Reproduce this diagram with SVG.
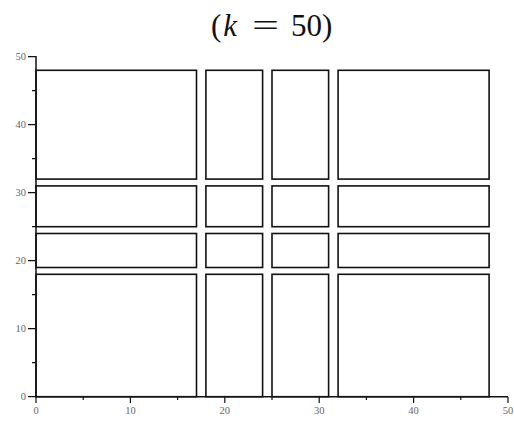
<svg xmlns="http://www.w3.org/2000/svg" width="514" height="422" viewBox="0 0 514 422">
<style>
.r{fill:none;stroke:#111;stroke-width:1.6}
.ax{stroke:#111;stroke-width:1.5;fill:none}
.tk{stroke:#111;stroke-width:1.2}
.lb{font-family:"Liberation Serif","DejaVu Serif",serif;font-size:10.5px;fill:#666}
.tt{font-family:"Liberation Serif","DejaVu Serif",serif;font-size:31px;fill:#111}
</style>
<rect width="514" height="422" fill="#fff"/>
<g id="title">
<text class="tt" x="211" y="36">(<tspan font-style="italic" dx="2">k</tspan></text>
<text class="tt" x="252" y="36" textLength="27" lengthAdjust="spacingAndGlyphs">=</text>
<text class="tt" x="291" y="36">50)</text>
</g>
<g id="axes">
<path class="ax" d="M36,56V396.7H508"/>
<g class="tk">
<path d="M28,56.7H36M28,124.7H36M28,192.7H36M28,260.7H36M28,328.7H36M28,396.7H36"/>
<path d="M32,90.7H36M32,158.7H36M32,226.7H36M32,294.7H36M32,362.7H36"/>
<path d="M36,396.7V403M130.4,396.7V403M224.8,396.7V403M319.2,396.7V403M413.6,396.7V403M508,396.7V403"/>
<path d="M83.2,396.7V400M177.6,396.7V400M272,396.7V400M366.4,396.7V400M460.8,396.7V400"/>
</g>
<g class="lb" text-anchor="end">
<text x="26" y="60">50</text>
<text x="26" y="128">40</text>
<text x="26" y="196">30</text>
<text x="26" y="264">20</text>
<text x="26" y="332">10</text>
<text x="26" y="400">0</text>
</g>
<g class="lb" text-anchor="middle">
<text x="36" y="414">0</text>
<text x="130.4" y="414">10</text>
<text x="224.8" y="414">20</text>
<text x="319.2" y="414">30</text>
<text x="413.6" y="414">40</text>
<text x="508" y="414">50</text>
</g>
</g>
<g id="rects">
<rect class="r" x="36" y="70.3" width="160.5" height="108.8"/>
<rect class="r" x="205.9" y="70.3" width="56.7" height="108.8"/>
<rect class="r" x="272" y="70.3" width="56.6" height="108.8"/>
<rect class="r" x="338.1" y="70.3" width="151" height="108.8"/>
<rect class="r" x="36" y="185.9" width="160.5" height="40.8"/>
<rect class="r" x="205.9" y="185.9" width="56.7" height="40.8"/>
<rect class="r" x="272" y="185.9" width="56.6" height="40.8"/>
<rect class="r" x="338.1" y="185.9" width="151" height="40.8"/>
<rect class="r" x="36" y="233.5" width="160.5" height="34"/>
<rect class="r" x="205.9" y="233.5" width="56.7" height="34"/>
<rect class="r" x="272" y="233.5" width="56.6" height="34"/>
<rect class="r" x="338.1" y="233.5" width="151" height="34"/>
<rect class="r" x="36" y="274.3" width="160.5" height="122.4"/>
<rect class="r" x="205.9" y="274.3" width="56.7" height="122.4"/>
<rect class="r" x="272" y="274.3" width="56.6" height="122.4"/>
<rect class="r" x="338.1" y="274.3" width="151" height="122.4"/>
</g>
</svg>
